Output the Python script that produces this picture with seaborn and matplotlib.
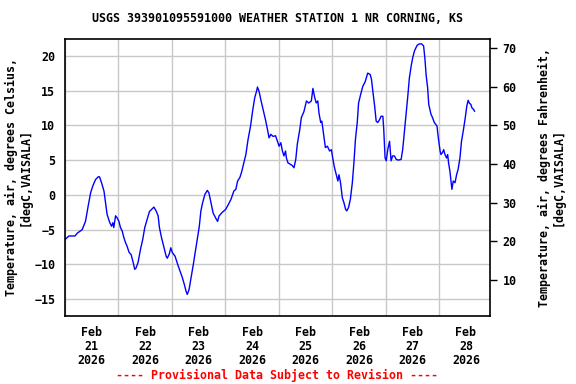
import numpy as np
import pandas as pd
import matplotlib
matplotlib.use("Agg")
import matplotlib.pyplot as plt
import matplotlib.dates as mdates
import matplotlib.ticker as mticker
import seaborn as sns

# Часы от 2026-02-21 00:00 и температура воздуха, °C
hours = [0.0, 1.8, 4.5, 5.5, 7.7, 9.2, 10.4, 11.5, 12.5, 13.7, 14.9, 15.5, 16.4, 17.5,
         18.2, 18.9, 20.0, 20.9, 21.5, 21.9, 22.7, 23.4, 24.2, 24.9, 25.7, 26.4, 27.1,
         27.9, 28.7, 29.7, 30.6, 31.3, 31.9, 32.8, 33.9, 34.9, 35.8, 36.9, 37.9, 38.8,
         39.9, 40.9, 41.8, 42.4, 43.3, 44.3, 45.4, 45.9, 46.8, 47.5, 48.2, 49.4, 50.6,
         51.6, 52.7, 53.6, 54.3, 54.9, 55.7, 56.6, 57.6, 58.7, 59.6, 60.3, 61.0, 61.8,
         62.8, 63.9, 64.6, 65.5, 66.5, 67.6, 68.5, 69.2, 70.6, 72.1, 73.3, 74.5, 75.8,
         76.7, 77.5, 78.5, 79.3, 80.3, 81.2, 82.2, 83.3, 84.2, 85.2, 86.0, 86.4, 87.1,
         87.9, 88.9, 90.0, 90.9, 91.6, 92.4, 93.4, 94.5, 95.4, 96.1, 96.9, 97.6, 98.3,
         99.0, 99.4, 100.1, 101.2, 102.1, 102.8, 103.6, 104.3, 105.4, 106.1, 107.3,
         108.4, 109.4, 110.6, 111.3, 112.1, 112.8, 113.5, 114.0, 114.8, 115.3, 116.1,
         116.9, 117.8, 118.8, 119.6, 120.3, 121.0, 121.8, 122.5, 123.0, 123.7, 124.5,
         125.2, 126.0, 126.5, 127.3, 128.1, 129.0, 129.7, 130.4, 131.2, 131.8, 132.7,
         133.7, 134.8, 135.9, 137.0, 137.6, 138.2, 139.0, 139.7, 140.4, 141.2, 141.9,
         142.7, 143.1, 143.7, 144.2, 144.9, 145.7, 146.4, 147.1, 147.9, 148.7, 149.7,
         150.9, 151.6, 152.4, 153.1, 153.9, 154.6, 155.4, 156.1, 156.9, 158.1, 159.1,
         160.1, 161.0, 161.6, 162.1, 162.8, 163.3, 164.3, 165.0, 165.8, 167.0, 167.6,
         168.4, 168.8, 169.5, 170.0, 170.6, 171.3, 171.8, 172.2, 172.8, 173.3, 173.7,
         174.3, 175.1, 175.8, 176.5, 177.3, 178.0, 178.9, 179.7, 180.4, 181.0, 181.5,
         182.2, 182.7, 183.4, 183.9]
temp_c = [-6.4, -5.9, -5.9, -5.5, -5.0, -3.8, -1.6, 0.3, 1.3, 2.2, 2.6, 2.6, 1.75, 0.55,
          -1.1, -2.8, -3.9, -4.5, -4.0, -4.7, -3.0, -3.3, -3.8, -4.7, -5.2, -6.1, -6.8,
          -7.4, -8.2, -8.6, -9.7, -10.7, -10.5, -9.7, -7.8, -6.4, -4.7, -3.5, -2.4, -2.1,
          -1.75, -2.3, -3.0, -4.7, -6.1, -7.4, -8.8, -9.1, -8.5, -7.6, -8.3, -8.8, -10.0,
          -10.9, -11.9, -12.9, -13.8, -14.3, -13.6, -11.9, -10.0, -7.8, -5.9, -4.5, -2.3, -1.1,
          0.07, 0.65, 0.3, -1.1, -2.6, -3.3, -3.8, -3.0, -2.5, -2.1, -1.4, -0.65, 0.55,
          0.8, 2.0, 2.5, 3.3, 4.6, 5.8, 8.0, 9.9, 12.0, 14.0, 14.9, 15.5, 14.9,
          13.7, 12.3, 10.8, 9.4, 8.2, 8.7, 8.4, 8.5, 7.7, 7.0, 7.5, 6.3, 5.6,
          6.3, 5.3, 4.6, 4.4, 4.2, 3.9, 5.1, 7.3, 9.4, 11.1, 12.0,
          13.5, 13.2, 13.5, 15.3, 14.0, 13.2, 13.5, 11.8, 10.4, 10.6, 8.7,
          6.8, 7.0, 6.3, 6.5, 5.1, 3.9, 2.9, 2.0, 2.9, 1.75, -0.4,
          -1.1, -2.1, -2.3, -1.8, -0.65, 1.75, 4.6, 8.0, 10.4, 13.2, 14.4,
          15.6, 16.3, 17.5, 17.3, 16.6, 14.9, 12.8, 10.6, 10.4, 10.8, 11.3,
          11.3, 9.4, 5.3, 4.9, 6.5, 7.7, 4.9, 5.6, 5.6, 5.1, 5.0,
          5.1, 6.5, 9.2, 11.6, 14.2, 16.8, 18.5, 19.7, 20.7, 21.5, 21.7,
          21.7, 21.4, 19.5, 17.3, 15.4, 13.0, 11.6, 11.1, 10.4, 9.9, 8.2,
          6.3, 5.8, 6.1, 6.5, 5.8, 5.3, 5.8, 4.6, 3.4, 2.0, 0.8,
          2.0, 1.75, 2.9, 3.7, 5.3, 7.7, 9.4, 11.1, 12.8, 13.6, 13.2,
          13.0, 12.5, 12.3, 12.0]

c_ticks = [-15, -10, -5, 0, 5, 10, 15, 20]
f_ticks = [10, 20, 30, 40, 50, 60, 70]
c_lim = (-17.4, 22.4)

title = "USGS 393901095591000 WEATHER STATION 1 NR CORNING, KS"
left_label = "Temperature, air, degrees Celsius,\n[degC,VAISALA]"
right_label = "Temperature, air, degrees Fahrenheit,\n[degC,VAISALA]"
footer = "---- Provisional Data Subject to Revision ----"

start = pd.Timestamp("2026-02-21")
df = pd.DataFrame({
    "time": start + pd.to_timedelta(hours, unit="h"),
    "temp": temp_c,
})

sns.set_style("white")
plt.rcParams["font.family"] = ["DejaVu Sans Mono"]
plt.rcParams["font.weight"] = "bold"
plt.rcParams["text.color"] = "black"
plt.rcParams["xtick.color"] = "black"
plt.rcParams["ytick.color"] = "black"
plt.rcParams["xtick.labelcolor"] = "black"
plt.rcParams["ytick.labelcolor"] = "black"
fs = 8.4

fig = plt.figure(figsize=(5.76, 3.84), dpi=100)
ax = fig.add_axes([65 / 576, 1 - 316 / 384, 425 / 576, 277 / 384])

sns.lineplot(data=df, x="time", y="temp", ax=ax, color="#0000ff", linewidth=1.0)

ax.set_xlim(start, start + pd.Timedelta(hours=190.8))
ax.set_ylim(*c_lim)
ax.set_xlabel("")
ax.set_ylabel("")

# дни - сетка, подписи - в полдень
ax.xaxis.set_major_locator(mdates.DayLocator())
ax.xaxis.set_major_formatter(mticker.NullFormatter())
ax.xaxis.set_minor_locator(mdates.HourLocator(byhour=12))
ax.xaxis.set_minor_formatter(mdates.DateFormatter("%b\n%d\n%Y"))
ax.set_yticks(c_ticks)
ax.grid(True, which="major", color="#c8c8c8", linewidth=1.0)
ax.tick_params(axis="x", which="both", length=0, pad=7, labelsize=fs, labelcolor="black")
ax.tick_params(axis="y", length=0, pad=7, labelsize=fs, labelcolor="black")
for lab in ax.get_xticklabels(minor=True):
    lab.set_fontweight("bold")
    lab.set_linespacing(1.1)
for lab in ax.get_yticklabels():
    lab.set_fontweight("bold")

for sp in ax.spines.values():
    sp.set_color("black")
    sp.set_linewidth(1.2)

# правая шкала в °F
ax2 = ax.twinx()
ax2.set_ylim(c_lim[0] * 1.8 + 32, c_lim[1] * 1.8 + 32)
ax2.set_yticks(f_ticks)
ax2.tick_params(axis="y", direction="out", length=5, width=1, pad=4, labelsize=fs,
                color="black", labelcolor="black")
for lab in ax2.get_yticklabels():
    lab.set_fontweight("bold")
ax2.grid(False)
for sp in ax2.spines.values():
    sp.set_visible(False)

fig.text(277.5 / 576, 1 - 19 / 384, title, ha="center", va="center",
         fontsize=fs, fontweight="bold", color="black")
fig.text(18 / 576, 1 - 177.5 / 384, left_label, rotation=90, ha="center", va="center",
         fontsize=fs, fontweight="bold", multialignment="center", linespacing=1.1,
         color="black")
fig.text(551 / 576, 1 - 177.5 / 384, right_label, rotation=90, ha="center", va="center",
         fontsize=fs, fontweight="bold", multialignment="center", linespacing=1.1,
         color="black")
fig.text(277.5 / 576, 1 - 375 / 384, footer, ha="center", va="center",
         fontsize=fs, fontweight="bold", color="red")

fig.savefig("out.png", dpi=100)
